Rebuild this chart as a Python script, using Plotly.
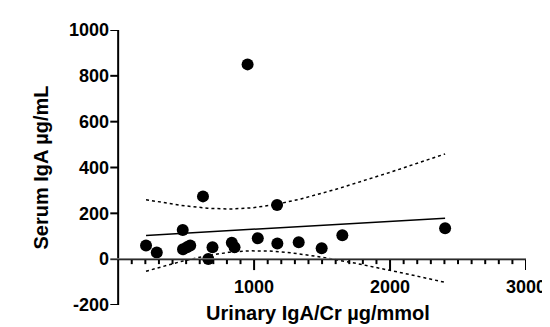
import numpy as np
import plotly.graph_objects as go

# Data
urinary_iga_cr = [205, 284, 475, 477, 506, 530, 624, 663, 694, 836, 856, 952,
                  1027, 1169, 1171, 1328, 1497, 1649, 2405]
serum_iga = [60, 29, 127, 43, 52, 60, 274, 1, 52, 72, 52, 850,
             91, 236, 68, 74, 48, 104, 135]
x_tick_vals = [1000, 2000, 3000]
x_tick_text = ["1000", "2000", "3000"]
x_minor_tick_vals = [v for v in range(100, 3000, 100) if v % 1000 != 0]
y_tick_vals = [-200, 0, 200, 400, 600, 800, 1000]
y_tick_text = ["-200", "0", "200", "400", "600", "800", "1000"]

# Linear regression with 95% confidence band
x = np.array(urinary_iga_cr, dtype=float)
y = np.array(serum_iga, dtype=float)
n = len(x)
slope, intercept = np.polyfit(x, y, 1)
resid = y - (slope * x + intercept)
s = np.sqrt(np.sum(resid ** 2) / (n - 2))
t_crit = 2.1098  # t(0.975, df=17)
xm = x.mean()
sxx = np.sum((x - xm) ** 2)
xf = np.linspace(x.min(), x.max(), 200)
yf = slope * xf + intercept
half = t_crit * s * np.sqrt(1.0 / n + (xf - xm) ** 2 / sxx)

font_family = "Liberation Sans, Arial, sans-serif"
W, H = 550, 327
M = dict(l=102, r=25, t=20, b=30)
y_min, y_max = -200, 1000
x_min, x_max = -60, 3000
zero_frac = (0 - y_min) / (y_max - y_min)

# pixel -> data-unit conversion for tick lengths
px_per_x = (W - M["l"] - M["r"]) / (x_max - x_min)
px_per_y = (H - M["t"] - M["b"]) / (y_max - y_min)
major_len = 11 / px_per_y
minor_len = 5 / px_per_y
ytick_len = 8 / px_per_x

axis_style = dict(color="black", width=2)

# Build axis line + tick segments from the tick value lists
ax_x, ax_y = [0, 3000, None, 0, 0, None], [0, 0, None, y_min, y_max, None]
for v in x_tick_vals:
    ax_x += [v, v, None]
    ax_y += [0, -major_len, None]
for v in x_minor_tick_vals:
    ax_x += [v, v, None]
    ax_y += [0, -minor_len, None]
for v in y_tick_vals:
    ax_x += [-ytick_len, 0, None]
    ax_y += [v, v, None]

fig = go.Figure()
fig.add_trace(go.Scatter(x=ax_x, y=ax_y, mode="lines", line=axis_style,
                         hoverinfo="skip", connectgaps=False))
fig.add_trace(go.Scatter(x=xf, y=yf + half, mode="lines",
                         line=dict(color="black", width=1.5, dash="dot"),
                         hoverinfo="skip"))
fig.add_trace(go.Scatter(x=xf, y=yf - half, mode="lines",
                         line=dict(color="black", width=1.5, dash="dot"),
                         hoverinfo="skip"))
fig.add_trace(go.Scatter(x=xf, y=yf, mode="lines",
                         line=dict(color="black", width=1.5)))
fig.add_trace(go.Scatter(x=urinary_iga_cr, y=serum_iga, mode="markers",
                         marker=dict(color="black", size=12)))
# invisible helper trace on a thin helper y axis that puts the x axis at y=0
fig.add_trace(go.Scatter(x=[0, 3000], y=[0, 0], mode="markers",
                         marker=dict(opacity=0), yaxis="y2",
                         hoverinfo="skip"))

fig.update_layout(
    width=W, height=H,
    margin=M,
    paper_bgcolor="white", plot_bgcolor="white",
    showlegend=False,
    font=dict(family=font_family, color="black"),
    xaxis=dict(
        range=[x_min, x_max],
        anchor="y2",
        tickmode="array", tickvals=x_tick_vals, ticktext=x_tick_text,
        ticks="outside", ticklen=11, tickwidth=2,
        tickcolor="rgba(0,0,0,0)",
        showline=False, showgrid=False, zeroline=False,
        tickfont=dict(size=18, weight="bold", family=font_family),
        title=dict(text="Urinary IgA/Cr µg/mmol", standoff=10,
                   font=dict(size=20, weight="bold", family=font_family)),
    ),
    yaxis=dict(
        range=[y_min, y_max], domain=[0, 1],
        anchor="x",
        tickmode="array", tickvals=y_tick_vals, ticktext=y_tick_text,
        ticks="", showline=False, showgrid=False, zeroline=False,
        tickfont=dict(size=18, weight="bold", family=font_family),
        title=dict(text="Serum IgA µg/mL", standoff=14,
                   font=dict(size=20, weight="bold", family=font_family)),
    ),
    yaxis2=dict(
        range=[0, 1], domain=[zero_frac, zero_frac + 0.002], anchor="x",
        showticklabels=False, ticks="", showline=False,
        showgrid=False, zeroline=False,
    ),
)

fig.write_html("out.html")
